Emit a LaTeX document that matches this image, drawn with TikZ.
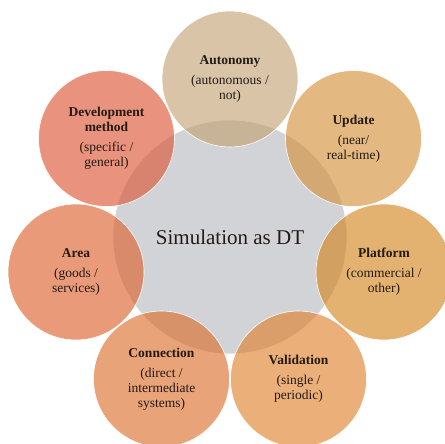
\documentclass[tikz,border=0pt]{standalone}
\usepackage{fontspec}
\setmainfont{Liberation Serif}
% Facet fills are mixed at 62% so the hub shows through where they overlap
\definecolor{hubgray}{RGB}{209,211,215}
\definecolor{textdark}{RGB}{36,26,20}
\definecolor{cAut}{RGB}{194,161,113}
\definecolor{cUpd}{RGB}{213,142,53}
\definecolor{cPla}{RGB}{211,131,26}
\definecolor{cVal}{RGB}{223,126,40}
\definecolor{cCon}{RGB}{221,107,40}
\definecolor{cAre}{RGB}{221,94,40}
\definecolor{cDev}{RGB}{221,82,48}
\begin{document}
\begin{tikzpicture}[x=1pt,y=-1pt,
  hub/.style={circle, fill=hubgray, draw=white, line width=0.6pt,
    minimum size=234pt, inner sep=0pt, text=textdark,
    font=\fontsize{21}{25}\selectfont},
  facet/.style={circle, draw=white, line width=0.6pt, fill opacity=0.62,
    text opacity=1, minimum size=136pt, inner sep=0pt, align=center,
    text=textdark, font=\fontsize{13.5}{15}\selectfont}]
\useasboundingbox (0,0) rectangle (445,444);
\fill[white] (0,0) rectangle (445,444);

% central hub
\node[hub] (core) at (230,237) {Simulation as DT};

% seven facets on a regular heptagon around the hub
\node[facet, fill=cAut] (autonomy) at (230,79)
  {\textbf{Autonomy}\\[5pt](autonomous /\\not)};
\node[facet, fill=cUpd] (update) at (353.5,138.5)
  {\textbf{Update}\\[5pt](near/\\real-time)};
\node[facet, fill=cPla] (platform) at (384,272)
  {\textbf{Platform}\\[5pt](commercial /\\other)};
\node[facet, fill=cVal] (validation) at (298.5,379)
  {\textbf{Validation}\\[5pt](single /\\periodic)};
\node[facet, fill=cCon] (connection) at (161.5,379)
  {\textbf{Connection}\\[5pt](direct /\\intermediate\\systems)};
\node[facet, fill=cAre] (area) at (76,272)
  {\textbf{Area}\\[5pt](goods /\\services)};
\node[facet, fill=cDev] (devmethod) at (106.5,138.5)
  {\textbf{Development}\\\textbf{method}\\[5pt](specific /\\general)};
\end{tikzpicture}
\end{document}
